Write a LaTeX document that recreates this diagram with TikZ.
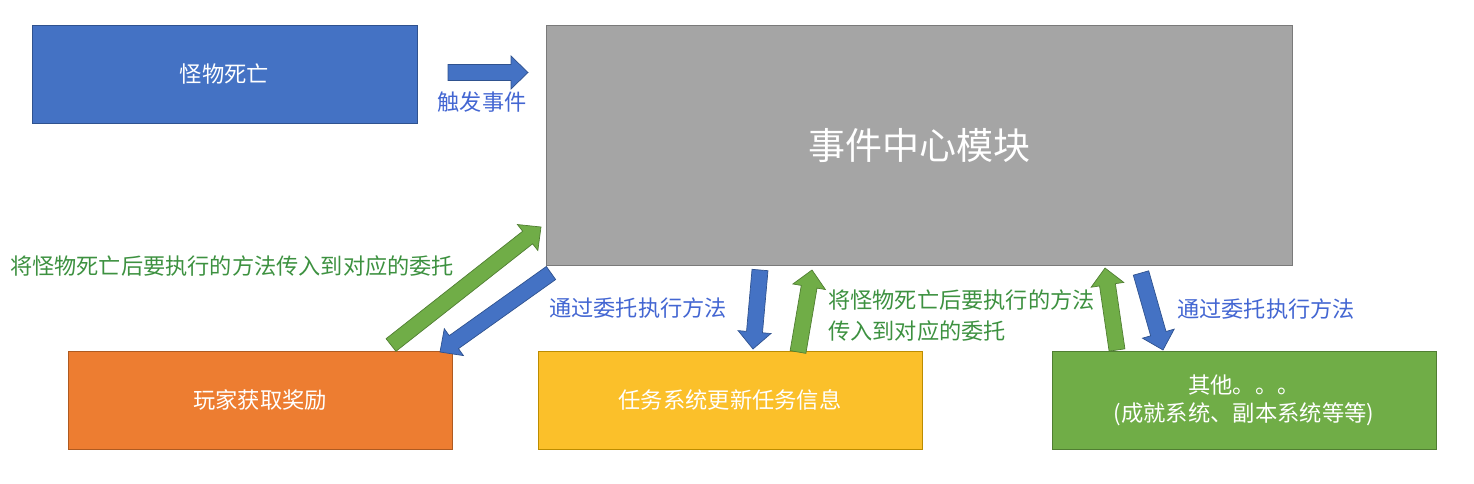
\documentclass[tikz,border=0pt]{standalone}
\usepackage{fontspec}
\setmainfont{Noto Sans CJK SC}
\usetikzlibrary{calc}
\definecolor{bluebox}{HTML}{4472C4}
\definecolor{blueedge}{HTML}{2F528F}
\definecolor{graybox}{HTML}{A5A5A5}
\definecolor{grayedge}{HTML}{7A7A7A}
\definecolor{orangebox}{HTML}{ED7D31}
\definecolor{orangeedge}{HTML}{AE5A21}
\definecolor{yellowbox}{HTML}{FBC02A}
\definecolor{yellowedge}{HTML}{BC8C00}
\definecolor{greenbox}{HTML}{70AD47}
\definecolor{greenedge}{HTML}{507E32}
\definecolor{bluetext}{HTML}{4366D2}
\definecolor{greentext}{HTML}{3D9140}
\newcommand{\blockarr}[3]{%
  \coordinate (bb) at ($(#3)!17pt!(#2)$);
  \draw[#1] ($(#2)!8pt!90:(#3)$) -- ($(bb)!8pt!90:(#3)$) -- ($(bb)!16.5pt!90:(#3)$) -- (#3)
    -- ($(bb)!16.5pt!-90:(#3)$) -- ($(bb)!8pt!-90:(#3)$) -- ($(#2)!8pt!-90:(#3)$) -- cycle;
}
\tikzset{
  box/.style={rectangle, draw, line width=0.8pt, text=white, font=\fontsize{22.3}{28}\selectfont, align=center},
  lbl/.style={font=\fontsize{22.2}{31}\selectfont, inner sep=0pt},
  bluearr/.style={fill=bluebox, draw=blueedge, line width=0.7pt, line join=miter},
  greenarr/.style={fill=greenbox, draw=greenedge, line width=0.7pt, line join=miter}
}
\begin{document}
\begin{tikzpicture}[x=1pt,y=-1pt]
\useasboundingbox (0,0) rectangle (1474,484);
\node[box, fill=bluebox, draw=blueedge, minimum width=385pt, minimum height=98pt] (A) at (224.5,74) {怪物死亡};
\node[box, fill=graybox, draw=grayedge, minimum width=746pt, minimum height=240pt, font=\fontsize{37}{40}\selectfont] (E) at (919,145) {事件中心模块};
\node[box, fill=orangebox, draw=orangeedge, minimum width=384pt, minimum height=98pt] (P) at (260,400) {玩家获取奖励};
\node[box, fill=yellowbox, draw=yellowedge, minimum width=384pt, minimum height=98pt] (T) at (730,400) {任务系统更新任务信息};
\node[box, fill=greenbox, draw=greenedge, minimum width=384pt, minimum height=98pt] (O) at (1244,400) {其他。。。\\(成就系统、副本系统等等)};
% arrow end points
\coordinate (a1s) at (448,72.5); \coordinate (a1e) at (528,72.5);
\coordinate (a2s) at (391,345); \coordinate (a2e) at (541,227);
\coordinate (a3s) at (551,273); \coordinate (a3e) at (440,352);
\coordinate (a4s) at (760,270); \coordinate (a4e) at (753,349);
\coordinate (a5s) at (798,352); \coordinate (a5e) at (812,270);
\coordinate (a6s) at (1117,350); \coordinate (a6e) at (1105,268);
\coordinate (a7s) at (1141,273); \coordinate (a7e) at (1163,350);
\blockarr{bluearr}{a1s}{a1e}
\blockarr{greenarr}{a2s}{a2e}
\blockarr{bluearr}{a3s}{a3e}
\blockarr{bluearr}{a4s}{a4e}
\blockarr{greenarr}{a5s}{a5e}
\blockarr{greenarr}{a6s}{a6e}
\blockarr{bluearr}{a7s}{a7e}
% labels
\node[lbl, text=bluetext] (l1) at (482,102) {触发事件};
\node[lbl, text=greentext] (l2) at (232,266) {将怪物死亡后要执行的方法传入到对应的委托};
\node[lbl, text=bluetext] (l3) at (638,308) {通过委托执行方法};
\node[lbl, text=greentext, align=left, anchor=west] (l4) at (828,315.5) {将怪物死亡后要执行的方法\\传入到对应的委托};
\node[lbl, text=bluetext] (l5) at (1266,309) {通过委托执行方法};
\end{tikzpicture}
\end{document}
